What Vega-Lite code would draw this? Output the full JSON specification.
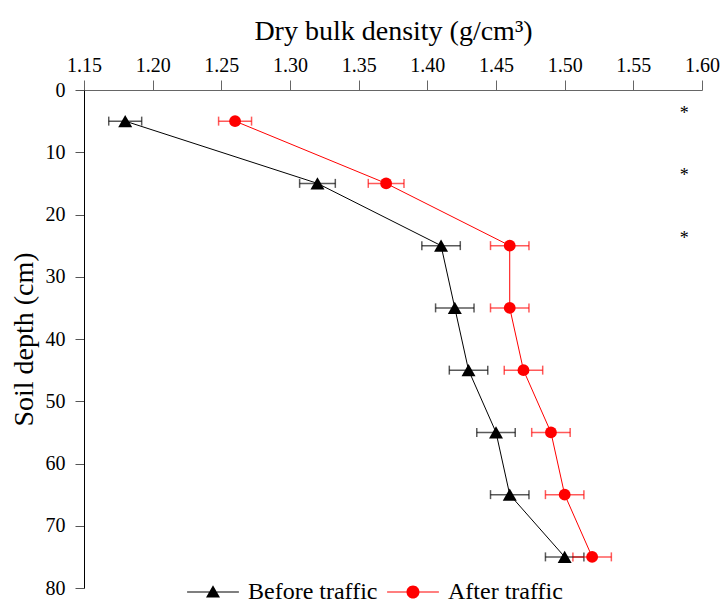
{
  "$schema": "https://vega.github.io/schema/vega-lite/v6.json",
  "width": 618,
  "height": 498,
  "autosize": "none",
  "padding": {"left": 84, "top": 90, "right": 20, "bottom": 17},
  "background": "white",
  "config": {
    "view": {"stroke": null},
    "font": "Liberation Serif, Times New Roman, serif",
    "axis": {"labelFont": "Liberation Serif, Times New Roman, serif", "titleFont": "Liberation Serif, Times New Roman, serif", "grid": false, "labelColor": "black", "titleColor": "black", "titleFontWeight": "normal"},
    "legend": {
      "orient": "none", "legendY": 490, "direction": "horizontal",
      "labelFont": "Liberation Serif, Times New Roman, serif", "labelFontSize": 24, "labelColor": "black",
      "labelOffset": 23, "symbolSize": 196, "symbolStrokeWidth": 0
    }
  },
  "datasets": {
    "pts": [
      {"series": "Before traffic", "depth": 5, "density": 1.18, "err": 0.012},
      {"series": "Before traffic", "depth": 15, "density": 1.32, "err": 0.013},
      {"series": "Before traffic", "depth": 25, "density": 1.41, "err": 0.014},
      {"series": "Before traffic", "depth": 35, "density": 1.42, "err": 0.014},
      {"series": "Before traffic", "depth": 45, "density": 1.43, "err": 0.014},
      {"series": "Before traffic", "depth": 55, "density": 1.45, "err": 0.014},
      {"series": "Before traffic", "depth": 65, "density": 1.46, "err": 0.014},
      {"series": "Before traffic", "depth": 75, "density": 1.50, "err": 0.014},
      {"series": "After traffic", "depth": 5, "density": 1.26, "err": 0.012},
      {"series": "After traffic", "depth": 15, "density": 1.37, "err": 0.013},
      {"series": "After traffic", "depth": 25, "density": 1.46, "err": 0.014},
      {"series": "After traffic", "depth": 35, "density": 1.46, "err": 0.014},
      {"series": "After traffic", "depth": 45, "density": 1.47, "err": 0.014},
      {"series": "After traffic", "depth": 55, "density": 1.49, "err": 0.014},
      {"series": "After traffic", "depth": 65, "density": 1.50, "err": 0.014},
      {"series": "After traffic", "depth": 75, "density": 1.52, "err": 0.014}
    ],
    "stars": [
      {"depth": 5, "density": 1.587, "label": "*"},
      {"depth": 15, "density": 1.587, "label": "*"},
      {"depth": 25, "density": 1.587, "label": "*"}
    ]
  },
  "layer": [
    {
      "data": {"name": "pts"},
      "mark": {"type": "errorbar", "ticks": {"opacity": 0.65, "size": 9}, "rule": {"opacity": 0.65}, "thickness": 1.5},
      "encoding": {
        "x": {"field": "density", "type": "quantitative",
          "scale": {"domain": [1.15, 1.6], "nice": false, "zero": false},
          "axis": {"orient": "top", "values": [1.15, 1.2, 1.25, 1.3, 1.35, 1.4, 1.45, 1.5, 1.55, 1.6], "format": ".2f",
            "title": "Dry bulk density (g/cm³)", "titleFontSize": 28, "titlePadding": 10,
            "labelFontSize": 20, "labelPadding": 5, "tickSize": 10, "domainColor": "#666", "tickColor": "#666", "labelFlush": false}},
        "xError": {"field": "err"},
        "y": {"field": "depth", "type": "quantitative",
          "scale": {"domain": [0, 80], "reverse": true, "nice": false},
          "axis": {"orient": "left", "values": [0, 10, 20, 30, 40, 50, 60, 70, 80],
            "title": "Soil depth (cm)", "titleFontSize": 28, "titlePadding": 7,
            "labelFontSize": 20, "labelPadding": 10, "tickSize": 9, "domainColor": "black", "tickColor": "#555", "labelFlush": false}},
        "color": {"field": "series", "type": "nominal",
          "scale": {"domain": ["Before traffic", "After traffic"], "range": ["black", "#ff0000"]}, "legend": null}
      }
    },
    {
      "data": {"name": "pts"},
      "mark": {"type": "line", "strokeWidth": 1},
      "encoding": {
        "x": {"field": "density", "type": "quantitative"},
        "y": {"field": "depth", "type": "quantitative"},
        "order": {"field": "depth"},
        "color": {"field": "series", "type": "nominal", "legend": null}
      }
    },
    {
      "data": {"name": "pts"},
      "mark": {"type": "point", "filled": true, "opacity": 1},
      "encoding": {
        "x": {"field": "density", "type": "quantitative"},
        "y": {"field": "depth", "type": "quantitative"},
        "color": {"field": "series", "type": "nominal", "legend": null},
        "shape": {"field": "series", "type": "nominal",
          "scale": {"domain": ["Before traffic", "After traffic"], "range": ["triangle-up", "circle"]}, "legend": null},
        "size": {"field": "series", "type": "nominal",
          "scale": {"domain": ["Before traffic", "After traffic"], "range": [196, 140]}, "legend": null}
      }
    },
    {
      "data": {"name": "pts"},
      "transform": [{"filter": "false"}],
      "mark": {"type": "point", "filled": true, "opacity": 1, "size": 196, "strokeWidth": 0, "color": "#000000"},
      "encoding": {
        "x": {"field": "density", "type": "quantitative"},
        "y": {"field": "depth", "type": "quantitative"},
        "shape": {"field": "series", "type": "nominal", "title": null,
          "scale": {"domain": ["Before traffic"], "range": ["M-3.7,-0.07H3.7V0.07H-3.7ZM-1,0.8L0,-0.95L1,0.8Z"]},
          "legend": {"legendX": 117}}
      }
    },
    {
      "data": {"name": "pts"},
      "transform": [{"filter": "false"}],
      "mark": {"type": "point", "filled": true, "opacity": 1, "size": 196, "strokeWidth": 0, "color": "#ff0000"},
      "encoding": {
        "x": {"field": "density", "type": "quantitative"},
        "y": {"field": "depth", "type": "quantitative"},
        "shape": {"field": "series", "type": "nominal", "title": null,
          "scale": {"domain": ["After traffic"], "range": ["M-3.7,-0.07H3.7V0.07H-3.7ZM-0.93,0A0.93,0.93 0 1,1 0.93,0A0.93,0.93 0 1,1 -0.93,0Z"]},
          "legend": {"legendX": 317}}
      }
    },
    {
      "data": {"name": "stars"},
      "mark": {"type": "text", "fontSize": 18, "font": "Liberation Serif, Times New Roman, serif", "baseline": "middle", "align": "center", "dy": -7, "color": "black"},
      "encoding": {
        "x": {"field": "density", "type": "quantitative"},
        "y": {"field": "depth", "type": "quantitative"},
        "text": {"field": "label"}
      }
    }
  ],
  "resolve": {"scale": {"shape": "independent", "size": "independent"}, "legend": {"shape": "independent"}}
}
